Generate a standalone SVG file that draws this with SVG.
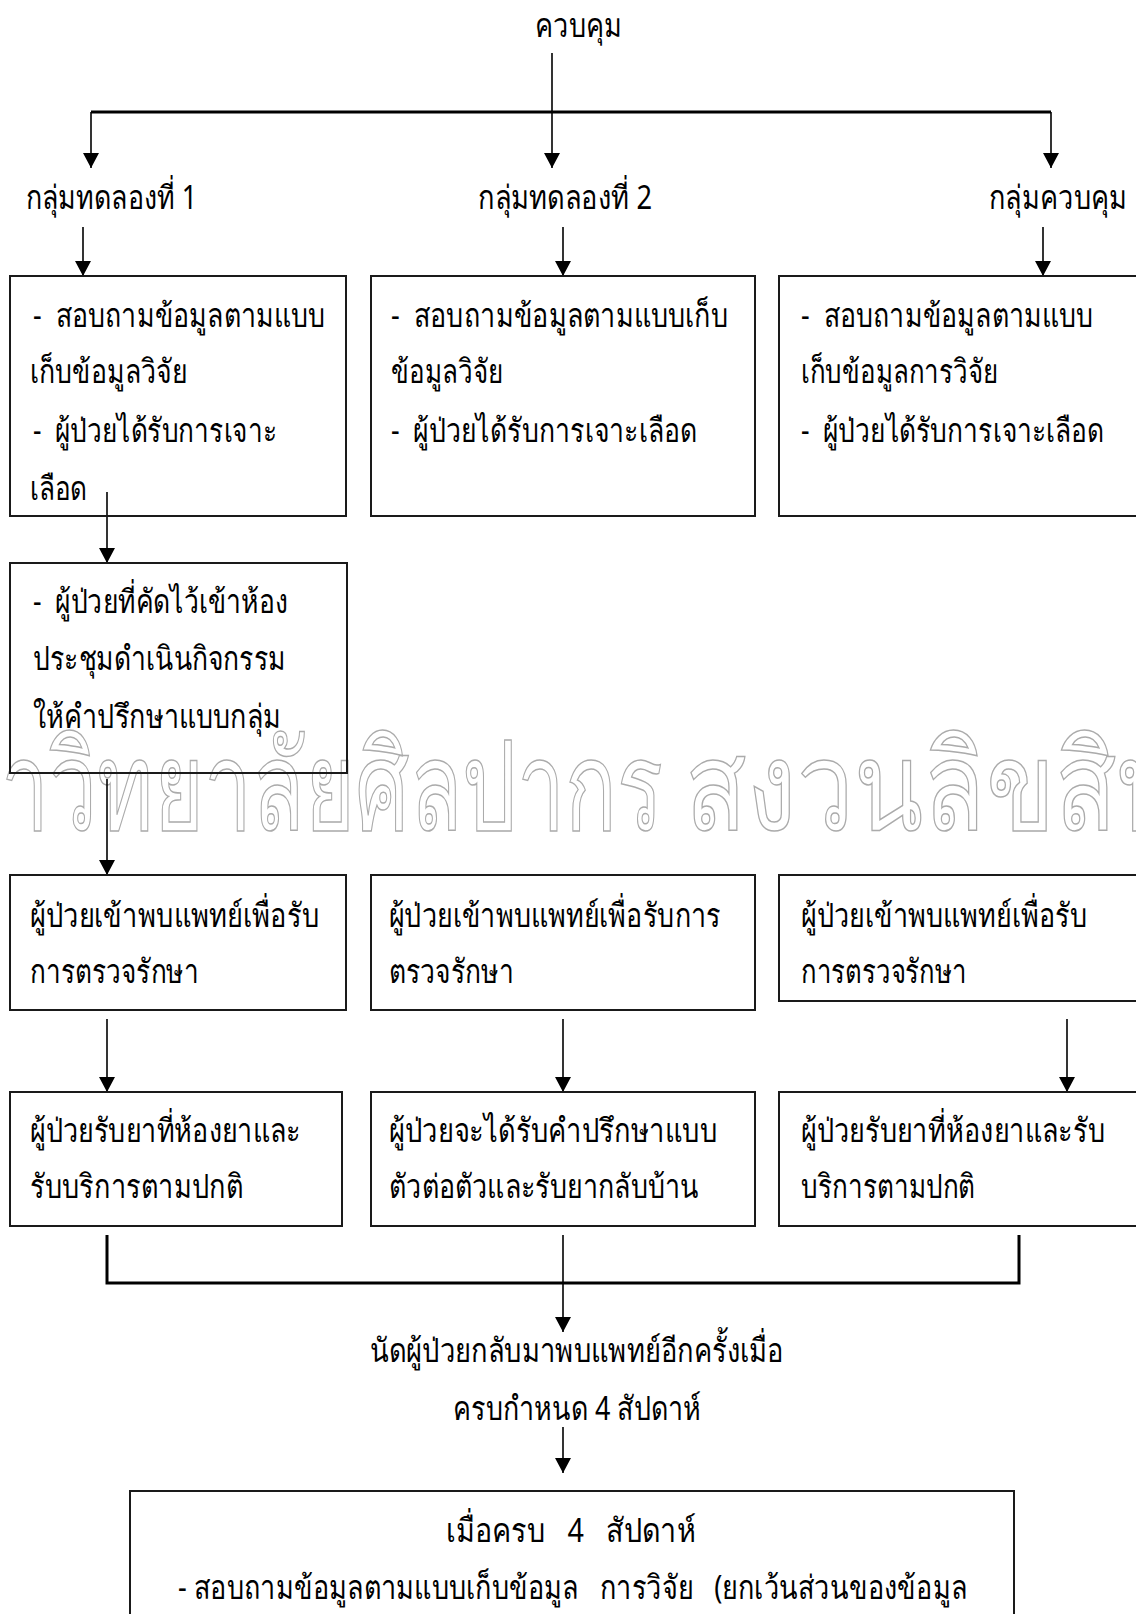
<svg xmlns="http://www.w3.org/2000/svg" width="1136" height="1614" viewBox="0 0 1136 1614">
<style>
text{font-family:"Noto Sans","DejaVu Sans",sans-serif;font-size:33px;fill:#000;white-space:pre}
.box{fill:none;stroke:#1a1a1a;stroke-width:2}
.ln{stroke:#000;stroke-width:1.6;fill:none}
.bar{stroke:#000;stroke-width:3;fill:none}
.wm{font-size:124px;fill:none;stroke:#ababab;stroke-width:1.5}
</style>
<defs>
<marker id="ah" markerUnits="userSpaceOnUse" markerWidth="16" markerHeight="16" refX="15" refY="8" orient="auto">
<path d="M0,0 L15,8 L0,16 z" fill="#000"/>
</marker>
</defs>
<rect width="1136" height="1614" fill="#fff"/>
<g id="watermark">
<text class="wm" x="-56" y="830" textLength="719" lengthAdjust="spacingAndGlyphs">หาวิทยาลัยศิลปากร</text>
<text class="wm" x="685" y="830" textLength="561" lengthAdjust="spacingAndGlyphs">สงวนลิขสิทธิ์</text>
</g>
<g id="connectors">
<path class="ln" d="M552,53 V112"/>
<path class="bar" d="M91,112 H1051"/>
<path class="ln" d="M91,112 V168" marker-end="url(#ah)"/>
<path class="ln" d="M552,112 V168" marker-end="url(#ah)"/>
<path class="ln" d="M1051,112 V168" marker-end="url(#ah)"/>
<path class="ln" d="M83,227 V276" marker-end="url(#ah)"/>
<path class="ln" d="M563,227 V276" marker-end="url(#ah)"/>
<path class="ln" d="M1043,227 V276" marker-end="url(#ah)"/>
<path class="ln" d="M107,492 V563" marker-end="url(#ah)"/>
<path class="ln" d="M107,779 V875" marker-end="url(#ah)"/>
<path class="ln" d="M107,1019 V1092" marker-end="url(#ah)"/>
<path class="ln" d="M563,1019 V1092" marker-end="url(#ah)"/>
<path class="ln" d="M1067,1019 V1092" marker-end="url(#ah)"/>
<path class="bar" d="M107,1235 V1283 H1019 V1235"/>
<path class="ln" d="M563,1235 V1332" marker-end="url(#ah)"/>
<path class="ln" d="M563,1427 V1473" marker-end="url(#ah)"/>
</g>
<g id="n-top"><text x="535" y="37" textLength="87" lengthAdjust="spacingAndGlyphs">ควบคุม</text></g>
<g id="n-g1"><text x="26" y="209" textLength="171" lengthAdjust="spacingAndGlyphs">กลุ่มทดลองที่ 1</text></g>
<g id="n-g2"><text x="478" y="209" textLength="174" lengthAdjust="spacingAndGlyphs">กลุ่มทดลองที่ 2</text></g>
<g id="n-g3"><text x="989" y="209" textLength="138" lengthAdjust="spacingAndGlyphs">กลุ่มควบคุม</text></g>
<g id="n-b1">
<rect class="box" x="10" y="276" width="336" height="240"/>
<text x="33" y="327" textLength="292" lengthAdjust="spacingAndGlyphs">-  สอบถามข้อมูลตามแบบ</text>
<text x="30" y="383" textLength="157" lengthAdjust="spacingAndGlyphs">เก็บข้อมูลวิจัย</text>
<text x="33" y="442" textLength="244" lengthAdjust="spacingAndGlyphs">-  ผู้ป่วยได้รับการเจาะ</text>
<text x="30" y="500" textLength="57" lengthAdjust="spacingAndGlyphs">เลือด</text>
</g>
<g id="n-b2">
<rect class="box" x="371" y="276" width="384" height="240"/>
<text x="391" y="327" textLength="337" lengthAdjust="spacingAndGlyphs">-  สอบถามข้อมูลตามแบบเก็บ</text>
<text x="391" y="383" textLength="112" lengthAdjust="spacingAndGlyphs">ข้อมูลวิจัย</text>
<text x="391" y="442" textLength="306" lengthAdjust="spacingAndGlyphs">-  ผู้ป่วยได้รับการเจาะเลือด</text>
</g>
<g id="n-b3">
<rect class="box" x="779" y="276" width="370" height="240"/>
<text x="801" y="327" textLength="292" lengthAdjust="spacingAndGlyphs">-  สอบถามข้อมูลตามแบบ</text>
<text x="801" y="383" textLength="197" lengthAdjust="spacingAndGlyphs">เก็บข้อมูลการวิจัย</text>
<text x="801" y="442" textLength="303" lengthAdjust="spacingAndGlyphs">-  ผู้ป่วยได้รับการเจาะเลือด</text>
</g>
<g id="n-b4">
<rect class="box" x="10" y="563" width="337" height="210"/>
<text x="33" y="613" textLength="255" lengthAdjust="spacingAndGlyphs">-  ผู้ป่วยที่คัดไว้เข้าห้อง</text>
<text x="33" y="670" textLength="253" lengthAdjust="spacingAndGlyphs">ประชุมดำเนินกิจกรรม</text>
<text x="33" y="728" textLength="248" lengthAdjust="spacingAndGlyphs">ให้คำปรึกษาแบบกลุ่ม</text>
</g>
<g id="n-c1">
<rect class="box" x="10" y="875" width="336" height="135"/>
<text x="30" y="927" textLength="289" lengthAdjust="spacingAndGlyphs">ผู้ป่วยเข้าพบแพทย์เพื่อรับ</text>
<text x="30" y="983" textLength="169" lengthAdjust="spacingAndGlyphs">การตรวจรักษา</text>
</g>
<g id="n-c2">
<rect class="box" x="371" y="875" width="384" height="135"/>
<text x="389" y="927" textLength="332" lengthAdjust="spacingAndGlyphs">ผู้ป่วยเข้าพบแพทย์เพื่อรับการ</text>
<text x="389" y="983" textLength="125" lengthAdjust="spacingAndGlyphs">ตรวจรักษา</text>
</g>
<g id="n-c3">
<rect class="box" x="779" y="875" width="370" height="126"/>
<text x="801" y="927" textLength="286" lengthAdjust="spacingAndGlyphs">ผู้ป่วยเข้าพบแพทย์เพื่อรับ</text>
<text x="801" y="983" textLength="166" lengthAdjust="spacingAndGlyphs">การตรวจรักษา</text>
</g>
<g id="n-d1">
<rect class="box" x="10" y="1092" width="332" height="134"/>
<text x="30" y="1142" textLength="271" lengthAdjust="spacingAndGlyphs">ผู้ป่วยรับยาที่ห้องยาและ</text>
<text x="30" y="1198" textLength="213" lengthAdjust="spacingAndGlyphs">รับบริการตามปกติ</text>
</g>
<g id="n-d2">
<rect class="box" x="371" y="1092" width="384" height="134"/>
<text x="389" y="1142" textLength="328" lengthAdjust="spacingAndGlyphs">ผู้ป่วยจะได้รับคำปรึกษาแบบ</text>
<text x="389" y="1198" textLength="310" lengthAdjust="spacingAndGlyphs">ตัวต่อตัวและรับยากลับบ้าน</text>
</g>
<g id="n-d3">
<rect class="box" x="779" y="1092" width="370" height="134"/>
<text x="801" y="1142" textLength="304" lengthAdjust="spacingAndGlyphs">ผู้ป่วยรับยาที่ห้องยาและรับ</text>
<text x="801" y="1198" textLength="174" lengthAdjust="spacingAndGlyphs">บริการตามปกติ</text>
</g>
<g id="n-appt">
<text x="370" y="1362" textLength="414" lengthAdjust="spacingAndGlyphs">นัดผู้ป่วยกลับมาพบแพทย์อีกครั้งเมื่อ</text>
<text x="453" y="1420" textLength="248" lengthAdjust="spacingAndGlyphs">ครบกำหนด 4 สัปดาห์</text>
</g>
<g id="n-final">
<rect class="box" x="130" y="1491" width="884" height="140"/>
<text x="446" y="1542" textLength="250" lengthAdjust="spacingAndGlyphs">เมื่อครบ   4   สัปดาห์</text>
<text x="178" y="1599" textLength="789" lengthAdjust="spacingAndGlyphs">- สอบถามข้อมูลตามแบบเก็บข้อมูล   การวิจัย   (ยกเว้นส่วนของข้อมูล</text>
</g>
</svg>
